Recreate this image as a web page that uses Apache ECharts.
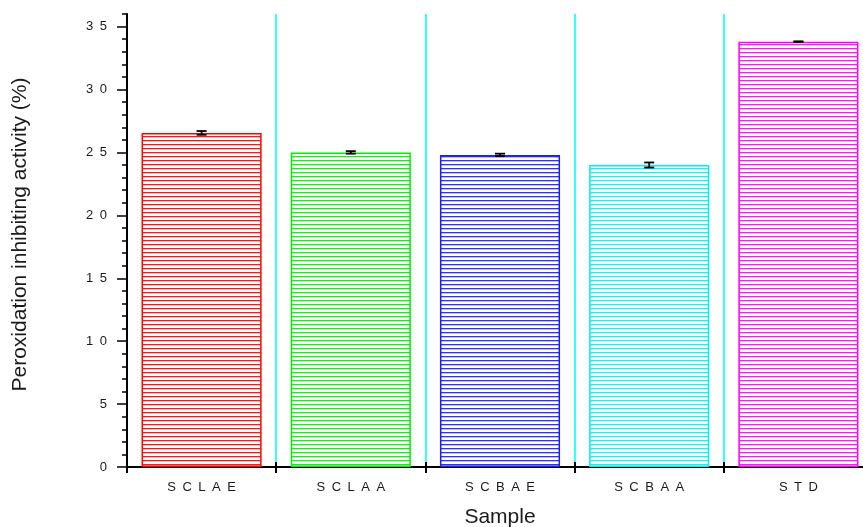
<!DOCTYPE html>
<html>
<head>
<meta charset="utf-8">
<script src="https://cdn.jsdelivr.net/npm/echarts@6/dist/echarts.min.js"></script>
<style>html,body{margin:0;padding:0;background:#fff}#c{width:863px;height:527px}</style>
</head>
<body>
<div id="c"></div>
<script>
const categories = ['SCLAE', 'SCLAA', 'SCBAE', 'SCBAA', 'STD'];
const values = [26.55, 25.0, 24.8, 24.0, 33.8];
const errors = [0.15, 0.1, 0.1, 0.2, 0.03];
const barColors = ['#ff0000', '#00ee00', '#1c1cff', '#00f0f0', '#ff00ff'];
const majorTicks = [0, 5, 10, 15, 20, 25, 30, 35];

const FONT = '"Liberation Sans", Arial, sans-serif';
const spaced = (s, sep) => String(s).split('').join(sep);

function hatch(color) {
  const c = document.createElement('canvas');
  c.width = 8; c.height = 4;
  const g = c.getContext('2d');
  g.fillStyle = '#ffffff'; g.fillRect(0, 0, 8, 4);
  g.globalAlpha = 0.9; g.fillStyle = color; g.fillRect(0, 0, 8, 1);
  g.globalAlpha = 0.3; g.fillRect(0, 1, 8, 1);
  return { image: c, repeat: 'repeat' };
}

const chart = echarts.init(document.getElementById('c'), null, { renderer: 'canvas' });
const gridRect = { left: 127, top: 14, right: -10, bottom: 60, outerBoundsMode: 'none', containLabel: false };

chart.setOption({
  animation: false,
  backgroundColor: '#ffffff',
  grid: [Object.assign({}, gridRect), Object.assign({}, gridRect)],
  xAxis: [{
    type: 'category', gridIndex: 0, data: categories,
    axisLine: { lineStyle: { color: '#000', width: 2 } },
    axisTick: { show: true, length: 6, lineStyle: { color: '#000', width: 2 } },
    axisLabel: { margin: 14, fontSize: 13, color: '#1a1a1a', fontFamily: FONT,
      formatter: v => spaced(v, '\u2002') },
    splitLine: { show: true, lineStyle: { color: '#00ffff', width: 1.6 } },
    name: 'Sample', nameLocation: 'middle', nameGap: 40,
    nameTextStyle: { fontSize: 21, color: '#1a1a1a', fontFamily: FONT }
  }, {
    type: 'category', gridIndex: 1, data: categories,
    axisLine: { show: false },
    axisTick: { show: true, inside: true, length: 5, lineStyle: { color: '#000', width: 2 } },
    axisLabel: { show: false }, splitLine: { show: false }
  }],
  yAxis: [{
    type: 'value', gridIndex: 0, min: 0, max: 36, interval: 1,
    axisLine: { show: true, lineStyle: { color: '#000', width: 2 } },
    axisTick: { show: true, length: 5, lineStyle: { color: '#000', width: 1.5 } },
    axisLabel: { show: false }, splitLine: { show: false },
    name: 'Peroxidation inhibiting activity (%)', nameLocation: 'middle', nameGap: 96,
    nameTextStyle: { fontSize: 21, color: '#1a1a1a', fontFamily: FONT, padding: [0, 0, 0, 12] }
  }, {
    type: 'value', gridIndex: 1, min: 0, max: 36,
    axisLine: { show: false },
    axisTick: { show: true, length: 10, customValues: majorTicks,
      lineStyle: { color: '#000', width: 1.5 } },
    axisLabel: { show: true, customValues: majorTicks, margin: 20, fontSize: 13,
      color: '#1a1a1a', fontFamily: FONT, formatter: v => spaced(v, '\u2002') },
    splitLine: { show: false }
  }],
  series: [{
    type: 'bar', xAxisIndex: 0, yAxisIndex: 0,
    barCategoryGap: '19.5%',
    data: values.map((v, i) => ({
      value: v,
      itemStyle: { color: hatch(barColors[i]), borderColor: barColors[i], borderWidth: 1.5 }
    }))
  }, {
    type: 'custom', xAxisIndex: 0, yAxisIndex: 0, z: 5,
    data: values.map((v, i) => [i, v, errors[i]]),
    renderItem: function (params, api) {
      const x = api.value(0), v = api.value(1), e = api.value(2);
      const top = api.coord([x, v + e]);
      const bot = api.coord([x, v - e]);
      const hw = 5;
      const st = { stroke: '#000', lineWidth: 1.8 };
      return { type: 'group', children: [
        { type: 'line', shape: { x1: top[0], y1: top[1], x2: bot[0], y2: bot[1] }, style: st },
        { type: 'line', shape: { x1: top[0] - hw, y1: top[1], x2: top[0] + hw, y2: top[1] }, style: st },
        { type: 'line', shape: { x1: bot[0] - hw, y1: bot[1], x2: bot[0] + hw, y2: bot[1] }, style: st }
      ]};
    }
  }]
});
</script>
</body>
</html>
